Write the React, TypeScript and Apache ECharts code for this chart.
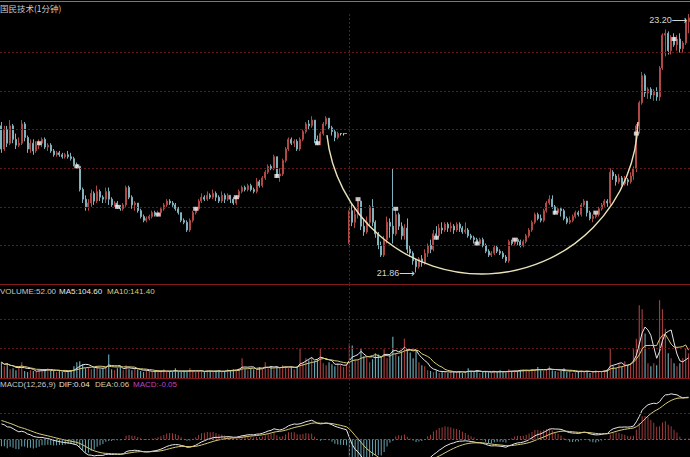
import React, { useEffect, useRef } from 'react';
import * as echarts from 'echarts';

// [open, close, low, high] per 1-minute bar
const candles: number[][] = [
  [22.62,22.50,22.48,22.64],[22.50,22.60,22.49,22.62],[22.60,22.53,22.51,22.62],[22.53,22.62,22.52,22.65],
  [22.62,22.55,22.53,22.63],[22.55,22.52,22.50,22.58],[22.52,22.53,22.51,22.56],[22.53,22.63,22.52,22.65],
  [22.63,22.56,22.54,22.64],[22.56,22.50,22.48,22.57],[22.50,22.53,22.48,22.55],[22.53,22.49,22.47,22.55],
  [22.49,22.52,22.48,22.54],[22.52,22.53,22.50,22.55],[22.53,22.55,22.51,22.56],[22.55,22.51,22.50,22.56],
  [22.51,22.52,22.49,22.53],[22.52,22.49,22.48,22.53],[22.49,22.47,22.46,22.50],[22.47,22.48,22.46,22.49],
  [22.48,22.47,22.46,22.49],[22.47,22.46,22.45,22.48],[22.46,22.47,22.45,22.48],[22.47,22.46,22.45,22.49],
  [22.46,22.45,22.44,22.48],[22.45,22.42,22.41,22.46],[22.42,22.41,22.40,22.43],[22.41,22.29,22.28,22.41],
  [22.29,22.24,22.22,22.30],[22.24,22.20,22.18,22.26],[22.20,22.22,22.18,22.24],[22.22,22.27,22.20,22.29],
  [22.27,22.23,22.21,22.28],[22.23,22.28,22.22,22.31],[22.28,22.25,22.23,22.29],[22.25,22.24,22.22,22.26],
  [22.24,22.28,22.22,22.30],[22.28,22.24,22.21,22.30],[22.24,22.21,22.20,22.25],[22.21,22.22,22.20,22.23],
  [22.22,22.20,22.19,22.23],[22.20,22.19,22.18,22.21],[22.19,22.21,22.18,22.22],[22.21,22.30,22.20,22.31],
  [22.30,22.25,22.24,22.31],[22.25,22.21,22.19,22.26],[22.21,22.22,22.18,22.23],[22.22,22.18,22.17,22.22],
  [22.18,22.15,22.14,22.19],[22.15,22.13,22.12,22.16],[22.13,22.14,22.12,22.15],[22.14,22.15,22.13,22.16],
  [22.15,22.17,22.14,22.18],[22.17,22.16,22.15,22.18],[22.16,22.17,22.15,22.18],[22.17,22.19,22.15,22.20],
  [22.19,22.21,22.18,22.22],[22.21,22.23,22.20,22.24],[22.23,22.22,22.21,22.24],[22.22,22.21,22.20,22.23],
  [22.21,22.19,22.18,22.22],[22.19,22.17,22.16,22.20],[22.17,22.13,22.12,22.17],[22.13,22.12,22.11,22.14],
  [22.12,22.08,22.07,22.13],[22.08,22.13,22.07,22.14],[22.13,22.17,22.12,22.18],[22.17,22.19,22.16,22.20],
  [22.19,22.23,22.18,22.24],[22.23,22.25,22.22,22.27],[22.25,22.24,22.23,22.26],[22.24,22.26,22.23,22.28],
  [22.26,22.25,22.24,22.27],[22.25,22.27,22.24,22.29],[22.27,22.25,22.23,22.28],[22.25,22.23,22.22,22.26],
  [22.23,22.26,22.22,22.28],[22.26,22.24,22.22,22.27],[22.24,22.26,22.23,22.27],[22.26,22.24,22.22,22.26],
  [22.24,22.22,22.21,22.25],[22.22,22.25,22.21,22.26],[22.25,22.28,22.24,22.29],[22.28,22.30,22.27,22.31],
  [22.30,22.29,22.28,22.31],[22.29,22.31,22.28,22.32],[22.31,22.29,22.28,22.32],[22.29,22.28,22.27,22.30],
  [22.28,22.33,22.27,22.35],[22.33,22.31,22.30,22.34],[22.31,22.35,22.30,22.36],[22.35,22.38,22.34,22.39],
  [22.38,22.41,22.37,22.42],[22.41,22.40,22.39,22.42],[22.40,22.46,22.39,22.47],[22.46,22.36,22.35,22.46],
  [22.36,22.37,22.33,22.40],[22.37,22.44,22.36,22.45],[22.44,22.50,22.43,22.51],[22.50,22.55,22.49,22.56],
  [22.55,22.53,22.52,22.56],[22.53,22.54,22.51,22.55],[22.54,22.50,22.49,22.55],[22.50,22.55,22.49,22.56],
  [22.55,22.59,22.54,22.60],[22.59,22.63,22.58,22.64],[22.63,22.62,22.60,22.65],[22.62,22.65,22.61,22.67],
  [22.65,22.55,22.53,22.65],[22.55,22.53,22.52,22.57],[22.53,22.58,22.52,22.59],[22.58,22.63,22.57,22.64],
  [22.63,22.66,22.62,22.67],[22.66,22.61,22.60,22.66],[22.61,22.59,22.57,22.62],[22.59,22.56,22.54,22.60],
  [22.56,22.58,22.55,22.59],[22.58,22.58,22.57,22.58],[22.58,22.58,22.57,22.58],[22.58,22.58,22.58,22.58],
  // afternoon
  [22.01,22.18,22.00,22.20],[22.18,22.12,22.10,22.22],[22.12,22.16,22.09,22.20],[22.16,22.23,22.14,22.24],
  [22.23,22.10,22.08,22.23],[22.10,22.07,22.05,22.14],[22.07,22.12,22.06,22.15],[22.12,22.20,22.10,22.21],
  [22.20,22.12,22.10,22.24],[22.12,22.06,22.04,22.13],[22.06,22.00,21.98,22.07],[22.00,21.95,21.94,22.02],
  [21.95,22.03,21.94,22.05],[22.03,22.12,22.01,22.15],[22.12,22.10,22.04,22.14],[22.10,22.06,22.01,22.40],
  [22.06,22.16,22.05,22.19],[22.16,22.10,22.08,22.17],[22.10,22.05,22.03,22.12],[22.05,22.09,22.03,22.11],
  [22.09,21.98,21.96,22.14],[21.98,21.96,21.94,22.00],[21.96,21.92,21.90,21.97],[21.92,21.89,21.86,21.93],
  [21.89,21.93,21.88,21.94],[21.93,21.91,21.89,21.95],[21.91,21.96,21.90,21.98],[21.96,22.00,21.94,22.01],
  [22.00,21.98,21.96,22.03],[21.98,22.06,21.97,22.08],[22.06,22.05,22.03,22.10],[22.05,22.09,22.04,22.11],
  [22.09,22.08,22.06,22.12],[22.08,22.11,22.07,22.12],[22.11,22.09,22.07,22.12],[22.09,22.10,22.07,22.12],
  [22.10,22.08,22.06,22.11],[22.08,22.11,22.07,22.12],[22.11,22.09,22.07,22.12],[22.09,22.07,22.06,22.10],
  [22.07,22.08,22.06,22.12],[22.08,22.05,22.04,22.09],[22.05,22.04,22.03,22.06],[22.04,22.03,22.01,22.05],
  [22.03,22.01,22.00,22.04],[22.01,22.03,22.00,22.04],[22.03,22.00,21.99,22.04],[22.00,21.97,21.96,22.01],
  [21.97,21.95,21.94,21.98],[21.95,21.96,21.94,21.97],[21.96,21.99,21.95,22.00],[21.99,21.97,21.96,22.00],
  [21.97,21.96,21.95,21.98],[21.96,21.94,21.93,21.97],[21.94,21.92,21.91,21.95],[21.92,22.02,21.91,22.03],
  [22.02,22.01,22.00,22.03],[22.01,22.03,22.00,22.04],[22.03,22.02,22.00,22.04],[22.02,22.00,21.99,22.03],
  [22.00,22.02,21.99,22.03],[22.02,22.05,22.01,22.06],[22.05,22.08,22.04,22.09],[22.08,22.12,22.07,22.13],
  [22.12,22.16,22.11,22.17],[22.16,22.14,22.13,22.17],[22.14,22.13,22.12,22.16],[22.13,22.18,22.12,22.19],
  [22.18,22.22,22.17,22.23],[22.22,22.24,22.21,22.26],[22.24,22.20,22.19,22.26],[22.20,22.17,22.16,22.21],
  [22.17,22.19,22.16,22.20],[22.19,22.18,22.15,22.20],[22.18,22.14,22.13,22.19],[22.14,22.12,22.11,22.15],
  [22.12,22.13,22.11,22.15],[22.13,22.15,22.12,22.16],[22.15,22.17,22.14,22.18],[22.17,22.16,22.15,22.18],
  [22.16,22.21,22.15,22.22],[22.21,22.23,22.20,22.24],[22.23,22.17,22.15,22.23],[22.17,22.14,22.13,22.18],
  [22.14,22.15,22.12,22.16],[22.15,22.16,22.14,22.17],[22.16,22.19,22.15,22.20],[22.19,22.21,22.18,22.22],
  [22.21,22.23,22.20,22.24],[22.23,22.22,22.20,22.24],[22.22,22.38,22.21,22.40],[22.38,22.36,22.34,22.39],
  [22.36,22.33,22.31,22.37],[22.33,22.35,22.32,22.37],[22.35,22.32,22.31,22.36],[22.32,22.34,22.31,22.36],
  [22.34,22.33,22.31,22.35],[22.33,22.36,22.32,22.38],[22.36,22.40,22.34,22.41],[22.40,22.62,22.38,22.63],
  [22.62,22.74,22.58,22.75],[22.74,22.88,22.73,22.90],[22.88,22.79,22.77,22.89],[22.79,22.81,22.76,22.82],
  [22.81,22.78,22.76,22.82],[22.78,22.80,22.75,22.81],[22.80,22.77,22.75,22.82],[22.77,22.92,22.75,22.93],
  [22.92,23.09,22.91,23.10],[23.09,23.10,22.98,23.12],[23.10,23.01,22.99,23.11],[23.01,23.08,22.99,23.09],
  [23.08,23.04,23.03,23.10],[23.04,23.07,23.01,23.09],[23.07,23.02,23.00,23.10],[23.02,23.05,23.00,23.06],
  [23.05,23.16,23.04,23.18],[23.16,23.18,23.10,23.20],
];

const volumes: number[] = [
  72, 54, 68, 40, 45, 36, 50, 72, 32, 27, 36, 32, 27, 40, 32, 40, 45, 36,
  32, 27, 36, 27, 32, 27, 36, 54, 72, 77, 63, 45, 50, 40, 45, 54, 40, 45, 50,
  108, 40, 36, 45, 54, 36, 58, 40, 36, 45, 40, 32, 27, 36, 32, 27, 32,
  27, 32, 40, 27, 32, 27, 45, 27, 27, 32, 27, 45, 32, 27, 32,
  32, 27, 36, 32, 27, 32, 36, 27, 32, 40, 36, 40, 36, 45, 90,
  40, 36, 45, 40, 36, 50, 40, 72, 45, 54, 40, 50, 45, 58, 54, 45, 50, 40, 54,
  135, 68, 90, 81, 95, 77, 86, 135, 68, 58, 72, 63, 54, 68, 58, 50, 63,
  // afternoon
  158, 149, 86, 81, 135, 99, 95, 72, 86, 113, 108, 99, 131, 90, 108, 189,
  113, 99, 122, 180, 131, 117, 90, 126, 72, 58, 54,
  36, 32, 27, 36, 23, 32, 27, 23, 32, 27,
  27, 32, 23, 27, 45, 32, 27, 36, 23, 27, 32, 27, 23, 32, 27, 36, 27, 23, 40, 32,
  36, 32, 36, 40, 36, 32, 40, 36, 50, 36, 32, 40, 54, 36,
  32, 27, 32, 45, 27, 32, 23, 27, 32, 36, 27, 32, 23, 27, 36, 32, 27, 36, 40,
  135, 54, 45, 63, 50, 77, 58, 68, 135, 180, 333, 315, 203, 68, 54, 68, 58,
  356, 315, 225, 113, 90, 68, 54, 68, 90, 135, 113,
];

// white square marks on the price panel: bar index and price
const markIdx: number[] = [13, 26, 40, 54, 67, 81, 95, 109, 123, 136, 150, 164, 177, 191, 205, 219, 232];
const markPrice: number[] = [22.53, 22.41, 22.20, 22.16, 22.19, 22.25, 22.36, 22.53, 22.24, 22.19, 22.04, 22.01, 22.03, 22.17, 22.17, 22.58, 23.07];

// state of the MACD(12,26,9) carried over from before the first bar
const macdSeed = { ema12: 22.60, ema26: 22.515, dea: 0.09 };

const priceGridLevels: number[] = [22.0, 22.2, 22.4, 22.6, 22.8, 23.0];
const volumeGridLevels: number[] = [135, 270];
const macdGridLevels: number[] = [0.12];
const middayIndex = 120;

const UP = '#b04846';
const DOWN = '#7fb2bc';
const VOL_UP = '#a03c3c';
const VOL_DOWN = '#66a4b0';
const GRID_RED = '#641818';
const BORDER_RED = '#801a1a';

function movingAverage(arr: number[], n: number): number[] {
  return arr.map((_, i) => {
    const s = Math.max(0, i - n + 1);
    let sum = 0;
    for (let k = s; k <= i; k++) sum += arr[k];
    return +(sum / (i - s + 1)).toFixed(2);
  });
}

function macd(closes: number[]) {
  let e12 = macdSeed.ema12;
  let e26 = macdSeed.ema26;
  let dea = macdSeed.dea;
  const difs: number[] = [];
  const deas: number[] = [];
  const hist: number[] = [];
  closes.forEach((c) => {
    e12 = (e12 * 11 + c * 2) / 13;
    e26 = (e26 * 25 + c * 2) / 27;
    const dif = e12 - e26;
    dea = (dea * 8 + dif * 2) / 10;
    difs.push(+dif.toFixed(4));
    deas.push(+dea.toFixed(4));
    hist.push(+(2 * (dif - dea)).toFixed(4));
  });
  return { difs, deas, hist };
}

export default function App() {
  const ref = useRef<HTMLDivElement>(null);
  useEffect(() => {
    document.body.style.margin = '0';
    document.body.style.background = '#000';
    const chart = echarts.init(ref.current!, undefined, { renderer: 'svg' });

    const times = candles.map((_, i) => {
      const m = i < middayIndex ? 9 * 60 + 31 + i : 13 * 60 + 1 + (i - middayIndex);
      return `${Math.floor(m / 60)}:${String(m % 60).padStart(2, '0')}`;
    });
    const closes = candles.map((c) => c[1]);
    const { difs, deas, hist } = macd(closes);
    const ma5 = movingAverage(volumes, 5);
    const ma10 = movingAverage(volumes, 10);

    const dotted = { color: GRID_RED, type: [2, 2] as any, width: 1 };
    const vLine = {
      symbol: 'none', silent: true, label: { show: false },
      lineStyle: dotted,
    };

    const hiddenY = {
      axisLine: { show: false }, axisTick: { show: false }, axisLabel: { show: false },
    };

    const latin = '"Liberation Sans", Arial, sans-serif';

    const option: any = {
      animation: false,
      backgroundColor: '#000',
      grid: [
        { left: 0, right: 0, top: 14, height: 270 },
        { left: 0, right: 0, top: 284, height: 94 },
        { left: 0, right: 0, top: 378, height: 79 },
      ],
      xAxis: [0, 1, 2].map((g) => ({
        type: 'category', gridIndex: g, data: times, boundaryGap: true,
        axisLine: { show: g < 2, onZero: false, lineStyle: { color: BORDER_RED, width: 1 } },
        axisTick: { show: false }, axisLabel: { show: false }, splitLine: { show: false },
      })),
      yAxis: [
        { gridIndex: 0, min: 21.8, max: 23.2, interval: 0.2, ...hiddenY, splitLine: { show: false } },
        { gridIndex: 1, min: 0, max: 430, ...hiddenY, splitLine: { show: false } },
        { gridIndex: 2, min: -0.08, max: 0.28, ...hiddenY, splitLine: { show: false } },
      ],
      series: [
        {
          type: 'candlestick', xAxisIndex: 0, yAxisIndex: 0, data: candles, barWidth: 1.5,
          itemStyle: {
            color: UP, color0: DOWN, borderColor: UP, borderColor0: DOWN,
            borderColorDoji: '#c8c8c8', borderWidth: 1,
          },
          markLine: {
            ...vLine,
            data: [{ xAxis: middayIndex }, ...priceGridLevels.map((v) => ({ yAxis: v }))],
          },
          markPoint: {
            symbol: 'circle', symbolSize: 0,
            label: {
              show: true, position: 'left', distance: 1,
              formatter: (p: any) => `{v|${Number(p.value).toFixed(2)}}{a|⟶}`,
              rich: {
                v: { color: '#d4d4d4', fontSize: 9, fontFamily: latin },
                a: { color: '#d4d4d4', fontSize: 11, fontFamily: '"DejaVu Sans", sans-serif' },
              },
            },
            data: [
              { type: 'max', valueDim: 'highest', label: { offset: [0, 6] } },
              { type: 'min', valueDim: 'lowest', label: { offset: [0, 1] } },
            ],
          },
          z: 3,
        },
        {
          type: 'scatter', xAxisIndex: 0, yAxisIndex: 0,
          data: markIdx.map((ix, k) => [ix, markPrice[k]]),
          symbol: 'rect', symbolSize: [5, 4], itemStyle: { color: '#f2f2f2' }, z: 5, silent: true,
        },
        {
          type: 'bar', xAxisIndex: 1, yAxisIndex: 1, barWidth: 1.2,
          data: volumes.map((v, i) => ({
            value: v,
            itemStyle: { color: candles[i][1] >= candles[i][0] ? VOL_UP : VOL_DOWN },
          })),
          markLine: {
            ...vLine,
            data: [{ xAxis: middayIndex }, ...volumeGridLevels.map((v) => ({ yAxis: v }))],
          },
        },
        {
          type: 'line', xAxisIndex: 1, yAxisIndex: 1, data: ma5, showSymbol: false,
          lineStyle: { color: '#e8e8e8', width: 1 }, z: 4, silent: true,
        },
        {
          type: 'line', xAxisIndex: 1, yAxisIndex: 1, data: ma10, showSymbol: false,
          lineStyle: { color: '#d9cc7a', width: 1 }, z: 4, silent: true,
        },
        {
          type: 'bar', xAxisIndex: 2, yAxisIndex: 2, barWidth: 1,
          data: hist.map((h) => ({ value: h, itemStyle: { color: h >= 0 ? VOL_UP : VOL_DOWN } })),
          markLine: {
            ...vLine,
            data: [
              { xAxis: middayIndex },
              ...macdGridLevels.map((v) => ({ yAxis: v })),
              { yAxis: 0, lineStyle: { color: '#55686a', type: [2, 2], width: 1 } },
            ],
          },
        },
        {
          type: 'line', xAxisIndex: 2, yAxisIndex: 2, data: difs, showSymbol: false,
          lineStyle: { color: '#e8e8e8', width: 1 }, z: 4, silent: true,
        },
        {
          type: 'line', xAxisIndex: 2, yAxisIndex: 2, data: deas, showSymbol: false,
          lineStyle: { color: '#d9cc7a', width: 1 }, z: 4, silent: true,
        },
      ],
      graphic: [
        { type: 'line', shape: { x1: 0, y1: 1.5, x2: 690, y2: 1.5 }, style: { stroke: '#777777', lineWidth: 1 } },
        {
          type: 'arc', z: 50,
          shape: { cx: 482, cy: 118, r: 156, startAngle: 0.0257, endAngle: 3.032, clockwise: true },
          style: { stroke: '#e9e3b8', lineWidth: 1.4, fill: null },
        },
        { type: 'text', x: 0, y: 7.5, style: { text: '国民技术(1分钟)', fill: '#cccccc', fontSize: 8.5, fontFamily: '"Noto Sans CJK SC", sans-serif', verticalAlign: 'middle' } },
        { type: 'text', x: 0, y: 291, style: { text: 'VOLUME:52.00', fill: '#c8c8c8', fontSize: 8, fontFamily: latin, verticalAlign: 'middle' } },
        { type: 'text', x: 59, y: 291, style: { text: 'MA5:104.60', fill: '#e8e8e8', fontSize: 8, fontFamily: latin, verticalAlign: 'middle' } },
        { type: 'text', x: 107, y: 291, style: { text: 'MA10:141.40', fill: '#d9cc7a', fontSize: 8, fontFamily: latin, verticalAlign: 'middle' } },
        { type: 'text', x: 0, y: 384, style: { text: 'MACD(12,26,9)', fill: '#c8c8c8', fontSize: 8, fontFamily: latin, verticalAlign: 'middle' } },
        { type: 'text', x: 59, y: 384, style: { text: 'DIF:0.04', fill: '#e8e8e8', fontSize: 8, fontFamily: latin, verticalAlign: 'middle' } },
        { type: 'text', x: 95, y: 384, style: { text: 'DEA:0.06', fill: '#d6d0a8', fontSize: 8, fontFamily: latin, verticalAlign: 'middle' } },
        { type: 'text', x: 133, y: 384, style: { text: 'MACD:-0.05', fill: '#c040c8', fontSize: 8, fontFamily: latin, verticalAlign: 'middle' } },
      ],
    };
    chart.setOption(option);
    return () => chart.dispose();
  }, []);
  return (
    <div
      ref={ref}
      style={{ position: 'fixed', left: 0, top: 0, width: 690, height: 457, background: '#000' }}
    />
  );
}
